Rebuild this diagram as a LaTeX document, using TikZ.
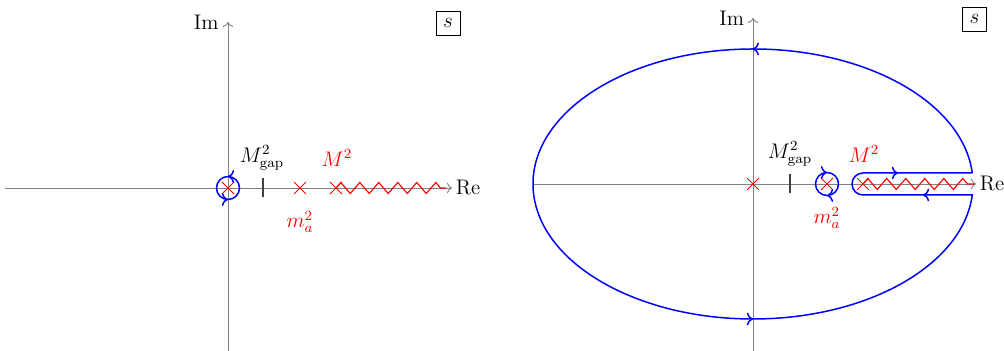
\documentclass[tikz,border=0pt]{standalone}
\usepackage{amsmath,amssymb}
\usetikzlibrary{arrows.meta,shapes.misc,decorations.markings,decorations.pathmorphing}

\begin{document}
\begin{tikzpicture}[
  font=\large,
  axis/.style={gray, line width=0.55pt, ->},
  pole/.style={cross out, draw=red, line width=0.55pt, minimum size=0.22cm, inner sep=0pt},
  cut/.style={red, line width=0.65pt, decorate, decoration={zigzag, segment length=0.38cm, amplitude=0.11cm}},
  contour/.style={blue, line width=0.85pt},
  loopmarks/.style={postaction={decorate}, decoration={markings, mark=at position 0.25 with {\arrow{>}}, mark=at position 0.75 with {\arrow{>}}}},
  tickmark/.style={black!75, line width=0.6pt},
  plane/.style={draw, line width=0.5pt, minimum size=0.48cm, inner sep=1pt},
  lab/.style={inner sep=1pt},
  redlab/.style={inner sep=1pt, text=red}
]
\useasboundingbox (0,0) rectangle (20.08,7.02);

% left plane
\begin{scope}[shift={(4.56,3.26)}]
\coordinate (Lw) at (-4.46,0);
\coordinate (Le) at (4.48,0);
\coordinate (Ls) at (0,-3.26);
\coordinate (Ln) at (0,3.32);
\draw[axis] (Lw) -- (Le);
\draw[axis] (Ls) -- (Ln);
\node[anchor=west, inner sep=2pt] (Lre) at (Le) {Re};
\node[anchor=east, inner sep=2pt] (Lim) at (-0.11,3.31) {Im};
\node[plane] (Lbox) at (4.4,3.3) {$s$};

\node[pole] (Lorig) at (0,0) {};
\node[pole] (Lma) at (1.44,0) {};
\node[pole] (LM) at (2.16,0) {};
\coordinate (Lgap) at (0.7,0);
\coordinate (Lcutend) at (4.36,0);
\draw[tickmark] ([yshift=-0.19cm]Lgap) -- ([yshift=0.19cm]Lgap);
\draw[cut] (LM.center) -- (Lcutend);

\node[lab] (Lgaplab) at (0.68,0.6) {$M^2_{\mathrm{gap}}$};
\node[redlab] (Lmalab) at (1.44,-0.68) {$m_a^2$};
\node[redlab] (LMlab) at (2.18,0.6) {$M^2$};

\draw[contour, loopmarks] (Lorig) circle (0.23);
\end{scope}

% right plane
\begin{scope}[shift={(15.06,3.34)}]
\coordinate (Rw) at (-4.4,0);
\coordinate (Re) at (4.46,0);
\coordinate (Rs) at (0,-3.34);
\coordinate (Rn) at (0,3.32);
\draw[axis] (Rw) -- (Re);
\draw[axis] (Rs) -- (Rn);
\node[anchor=west, inner sep=2pt] (Rre) at (Re) {Re};
\node[anchor=east, inner sep=2pt] (Rim) at (-0.1,3.32) {Im};
\node[plane] (Rbox) at (4.43,3.3) {$s$};

\node[pole] (Rorig) at (0,0) {};
\node[pole] (Rma) at (1.48,0) {};
\node[pole] (RM) at (2.2,0) {};
\coordinate (Rgap) at (0.74,0);
\coordinate (Rcutend) at (4.42,0);
\draw[tickmark] ([yshift=-0.19cm]Rgap) -- ([yshift=0.19cm]Rgap);
\draw[cut] (RM.center) -- (Rcutend);

\node[lab] (Rgaplab) at (0.74,0.6) {$M^2_{\mathrm{gap}}$};
\node[redlab] (Rmalab) at (1.48,-0.68) {$m_a^2$};
\node[redlab] (RMlab) at (2.22,0.6) {$M^2$};

\draw[contour, loopmarks] ([xshift=0.23cm]Rma.center) arc[start angle=0, end angle=-360, radius=0.23];

\coordinate (Rup) at (4.385,0.22);
\coordinate (Rdown) at (4.385,-0.22);
\draw[contour, postaction={decorate}, decoration={markings,
    mark=at position 5.44cm with {\arrow{>}},
    mark=at position 16.75cm with {\arrow{>}},
    mark=at position 23.17cm with {\arrow{>}},
    mark=at position 25.76cm with {\arrow{>}}}]
  (Rup) arc[start angle=4.67, end angle=355.33, x radius=4.4, y radius=2.7]
  -- ([yshift=-0.22cm]RM.center) arc[start angle=270, end angle=90, radius=0.22]
  -- (Rup);
\end{scope}
\end{tikzpicture}
\end{document}
